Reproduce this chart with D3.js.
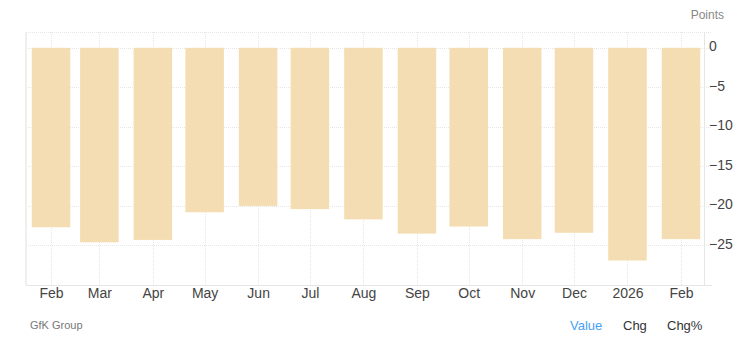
<!DOCTYPE html>
<html>
<head>
<meta charset="utf-8">
<script src="https://cdn.jsdelivr.net/npm/d3@7"></script>
<style>
    body { margin: 0; background: #fff; font-family: "Liberation Sans", Arial, sans-serif; }
    .grid line { stroke: #e6e6e6; stroke-dasharray: 1,1; }
    .axis text { fill: #444; }
</style>
</head>
<body>
<div id="chart"></div>
<script>
// Data
const months = ["2025-02-01", "2025-03-01", "2025-04-01", "2025-05-01", "2025-06-01", "2025-07-01",
    "2025-08-01", "2025-09-01", "2025-10-01", "2025-11-01", "2025-12-01", "2026-01-01", "2026-02-01"];
const values = [-22.7, -24.6, -24.3, -20.8, -20.0, -20.4, -21.7, -23.5, -22.6, -24.2, -23.4, -26.9, -24.2];
const xTickLabels = ["Feb", "Mar", "Apr", "May", "Jun", "Jul", "Aug", "Sep", "Oct", "Nov", "Dec", "2026", "Feb"];
const yTicks = [0, -5, -10, -15, -20, -25];

const width = 747, height = 353;
const margin = { top: 32, right: 43, bottom: 68, left: 26 };
const innerW = width - margin.left - margin.right;
const innerH = height - margin.top - margin.bottom;

const parse = d3.timeParse("%Y-%m-%d");
const data = months.map((m, i) => ({ date: parse(m), value: values[i], label: xTickLabels[i] }));

const svg = d3.select("#chart").append("svg")
    .attr("width", width)
    .attr("height", height);

const g = svg.append("g")
    .attr("transform", "translate(" + margin.left + "," + margin.top + ")");

// Scales
const first = data[0].date, last = data[data.length - 1].date;
const x = d3.scaleTime()
    .domain([d3.timeHour.offset(first, -348), d3.timeHour.offset(last, 320)])
    .range([0, innerW]);

const y = d3.scaleLinear()
    .domain([-30, 2])
    .range([innerH, 0]);

const barW = 38.5;

// grid lines
const grid = g.append("g").attr("class", "grid");
grid.selectAll(".hgrid")
    .data(yTicks.concat([2]))
    .enter().append("line")
    .attr("x1", 0).attr("x2", innerW + 8)
    .attr("y1", d => Math.round(y(d)) + 0.5)
    .attr("y2", d => Math.round(y(d)) + 0.5);
grid.selectAll(".vgrid")
    .data(data)
    .enter().append("line")
    .attr("x1", d => Math.round(x(d.date)) + 0.5)
    .attr("x2", d => Math.round(x(d.date)) + 0.5)
    .attr("y1", 0).attr("y2", innerH);

// bars
g.selectAll(".bar")
    .data(data)
    .enter().append("rect")
    .attr("class", "bar")
    .attr("x", d => x(d.date) - barW / 2)
    .attr("width", barW)
    .attr("y", y(0))
    .attr("height", d => y(d.value) - y(0))
    .attr("fill", "#f4ddb2");

// frame
g.append("line")
    .attr("x1", 0).attr("x2", 0).attr("y1", 0).attr("y2", innerH)
    .attr("stroke", "#efefef").attr("stroke-width", 2);
g.append("line")
    .attr("x1", 0).attr("x2", innerW + 8).attr("y1", innerH + 0.5).attr("y2", innerH + 0.5)
    .attr("stroke", "#e6e6e6");
g.append("line")
    .attr("x1", innerW + 0.5).attr("x2", innerW + 0.5).attr("y1", 0).attr("y2", innerH)
    .attr("stroke", "#e6e6e6");

// y axis (right side)
const yAxis = d3.axisRight(y)
    .tickValues(yTicks)
    .tickSize(0)
    .tickPadding(5)
    .tickFormat(d3.format("d"));
g.append("g")
    .attr("class", "y-axis axis")
    .attr("transform", "translate(" + innerW + ",-1.5)")
    .call(yAxis)
    .call(s => s.select(".domain").remove())
    .selectAll("text")
    .attr("font-size", 14)
    .attr("font-family", "Liberation Sans, Arial, sans-serif");

// x axis
const xAxis = d3.axisBottom(x)
    .tickValues(data.map(d => d.date))
    .tickSize(0)
    .tickPadding(3)
    .tickFormat((d, i) => xTickLabels[i]);
g.append("g")
    .attr("class", "x-axis axis")
    .attr("transform", "translate(0," + innerH + ")")
    .call(xAxis)
    .call(s => s.select(".domain").remove())
    .selectAll("text")
    .attr("font-size", 14)
    .attr("font-family", "Liberation Sans, Arial, sans-serif");

// unit label
svg.append("text")
    .attr("x", 724).attr("y", 19)
    .attr("text-anchor", "end")
    .attr("font-size", 12)
    .attr("fill", "#888")
    .text("Points");

// source
svg.append("text")
    .attr("x", 30).attr("y", 329)
    .attr("font-size", 11)
    .attr("fill", "#777")
    .text("GfK Group");

// tabs
const tabs = [{ t: "Value", x: 570, c: "#4a9ff5" }, { t: "Chg", x: 623, c: "#333" }, { t: "Chg%", x: 667, c: "#333" }];
svg.selectAll(".tab")
    .data(tabs)
    .enter().append("text")
    .attr("class", "tab")
    .attr("x", d => d.x).attr("y", 330)
    .attr("font-size", 13)
    .attr("fill", d => d.c)
    .text(d => d.t);
</script>
</body>
</html>
